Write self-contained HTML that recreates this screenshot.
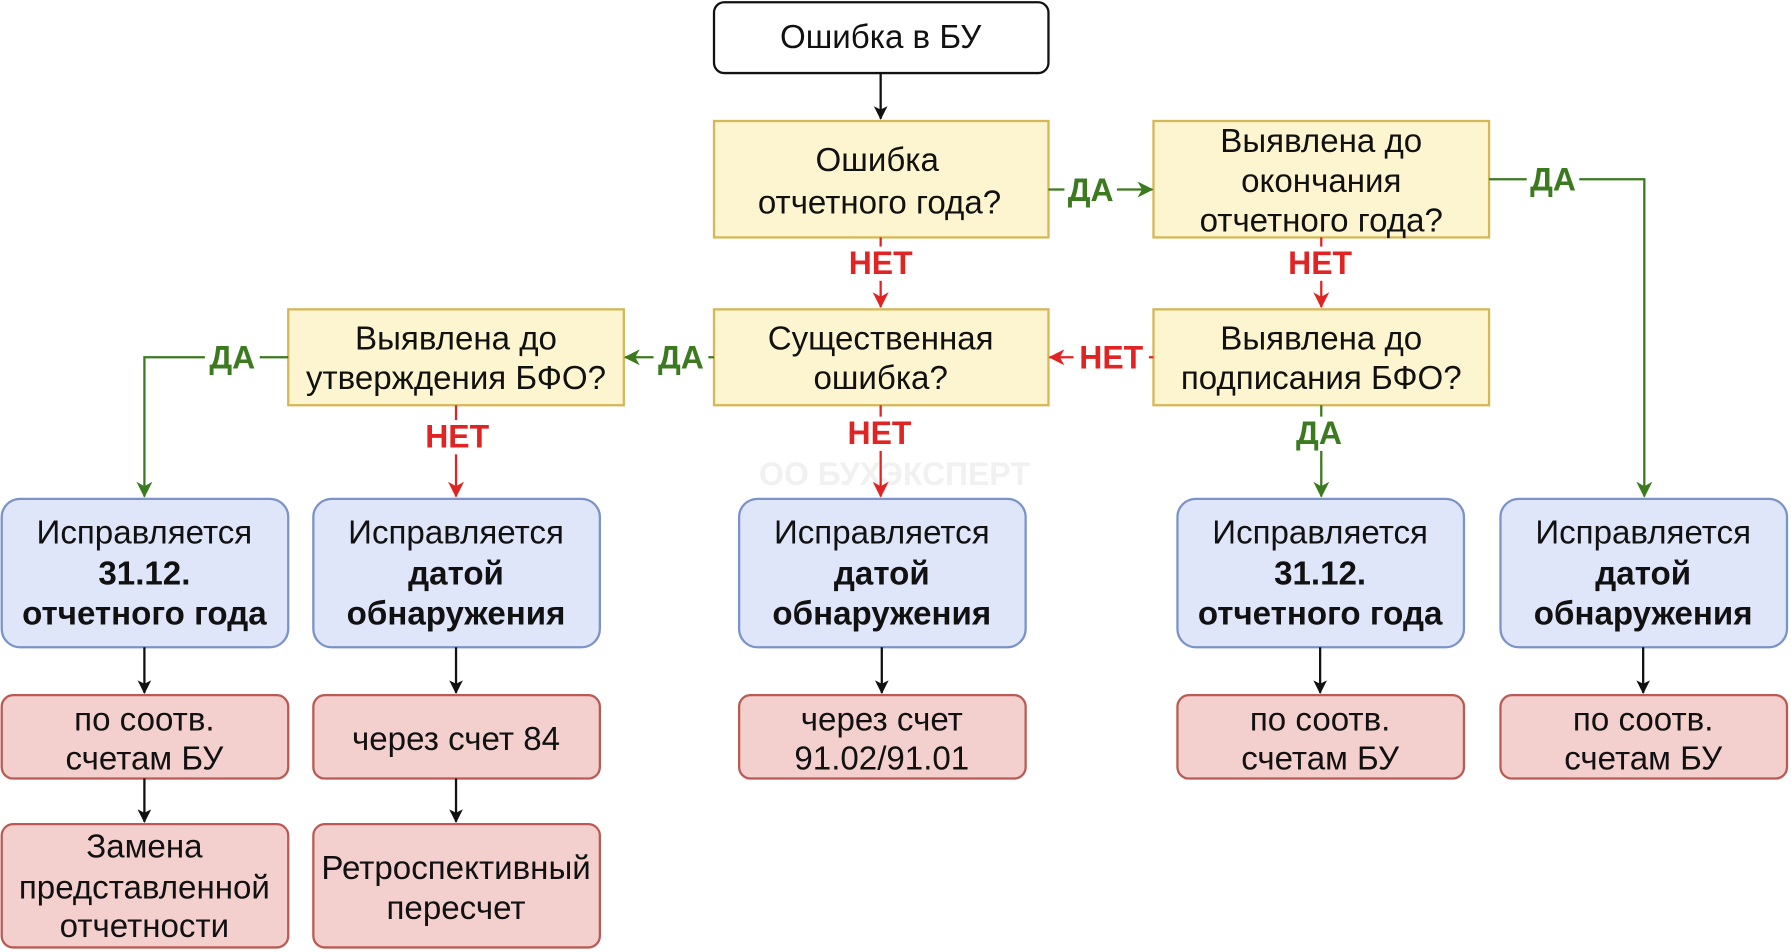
<!DOCTYPE html>
<html><head><meta charset="utf-8"><style>
html,body{margin:0;padding:0;background:#fff;}
svg{display:block;}
text{font-family:"Liberation Sans","DejaVu Sans",sans-serif;}
.t{font-size:29px;fill:#111;text-anchor:middle;}
.b{font-weight:bold;}
.g{font-size:28px;font-weight:bold;fill:#3b7a1f;text-anchor:middle;}
.r{font-size:28px;font-weight:bold;fill:#e02424;text-anchor:middle;}
.y{fill:#fdf5d0;stroke:#d6b656;stroke-width:2;}
.bl{fill:#dfe6fa;stroke:#7b93c9;stroke-width:2;}
.p{fill:#f3d0ce;stroke:#bb5a55;stroke-width:2;}
.lk{stroke:#111;stroke-width:2;fill:none;}
.lg{stroke:#3b7a1f;stroke-width:2;fill:none;}
.lr{stroke:#e02424;stroke-width:2;fill:none;}
</style></head><body>
<svg width="1791" height="952" viewBox="0 0 1568 834" xmlns="http://www.w3.org/2000/svg">
<defs>
<marker id="ak" markerWidth="12" markerHeight="12" refX="11" refY="6" orient="auto" markerUnits="userSpaceOnUse"><path d="M0,0 L12,6 L0,12 L3,6 z" fill="#111"/></marker>
<marker id="ag" markerWidth="14" markerHeight="14" refX="13" refY="7" orient="auto" markerUnits="userSpaceOnUse"><path d="M0,0 L14,7 L0,14 L4,7 z" fill="#3b7a1f"/></marker>
<marker id="ar" markerWidth="14" markerHeight="14" refX="13" refY="7" orient="auto" markerUnits="userSpaceOnUse"><path d="M0,0 L14,7 L0,14 L4,7 z" fill="#e02424"/></marker>
</defs>
<text x="783" y="425" font-size="28" font-weight="bold" fill="#f1f1f1" text-anchor="middle" style="font-family:'Liberation Sans',sans-serif">ОО БУХЭКСПЕРТ</text>

<rect x="625" y="2" width="293" height="62" rx="9" fill="#fff" stroke="#111" stroke-width="2"/>
<text class="t" x="771" y="42">Ошибка в БУ</text>
<line class="lk" x1="771" y1="64" x2="771" y2="104" marker-end="url(#ak)"/>

<rect class="y" x="625" y="106" width="293" height="102"/>
<text class="t" x="768" y="150">Ошибка</text><text class="t" x="770" y="187">отчетного года?</text>
<rect class="y" x="1010" y="106" width="294" height="102"/>
<text class="t" x="1157" y="133">Выявлена до</text><text class="t" x="1157" y="168">окончания</text><text class="t" x="1157" y="203">отчетного года?</text>

<line class="lg" x1="918" y1="166" x2="1009" y2="166" marker-end="url(#ag)"/>
<rect x="932" y="152" width="46" height="28" fill="#fff"/><text class="g" x="955" y="176">ДА</text>
<polyline class="lg" points="1304,157 1440,157 1440,435" marker-end="url(#ag)"/>
<rect x="1337" y="143" width="46" height="28" fill="#fff"/><text class="g" x="1360" y="167">ДА</text>

<line class="lr" x1="771" y1="208" x2="771" y2="269" marker-end="url(#ar)"/>
<rect x="738" y="216" width="66" height="30" fill="#fff"/><text class="r" x="771" y="240">НЕТ</text>
<line class="lr" x1="1157" y1="208" x2="1157" y2="269" marker-end="url(#ar)"/>
<rect x="1124" y="216" width="66" height="30" fill="#fff"/><text class="r" x="1156" y="240">НЕТ</text>

<rect class="y" x="252" y="271" width="294" height="84"/>
<text class="t" x="399" y="306">Выявлена до</text><text class="t" x="399" y="341">утверждения БФО?</text>
<rect class="y" x="625" y="271" width="293" height="84"/>
<text class="t" x="771" y="306">Существенная</text><text class="t" x="771" y="341">ошибка?</text>
<rect class="y" x="1010" y="271" width="294" height="84"/>
<text class="t" x="1157" y="306">Выявлена до</text><text class="t" x="1157" y="341">подписания БФО?</text>

<line class="lr" x1="1010" y1="313" x2="919" y2="313" marker-end="url(#ar)"/>
<rect x="940" y="299" width="66" height="28" fill="#fff"/><text class="r" x="973" y="323">НЕТ</text>
<line class="lg" x1="625" y1="313" x2="547" y2="313" marker-end="url(#ag)"/>
<rect x="572" y="299" width="48" height="28" fill="#fff"/><text class="g" x="596" y="323">ДА</text>
<polyline class="lg" points="252,313 126,313 126,435" marker-end="url(#ag)"/>
<rect x="179" y="299" width="48" height="28" fill="#fff"/><text class="g" x="203" y="323">ДА</text>

<line class="lr" x1="399" y1="355" x2="399" y2="435" marker-end="url(#ar)"/>
<rect x="366" y="368" width="66" height="30" fill="#fff"/><text class="r" x="400" y="392">НЕТ</text>
<line class="lr" x1="771" y1="355" x2="771" y2="435" marker-end="url(#ar)"/>
<rect x="738" y="365" width="66" height="30" fill="#fff"/><text class="r" x="770" y="389">НЕТ</text>
<line class="lg" x1="1157" y1="355" x2="1157" y2="435" marker-end="url(#ag)"/>
<rect x="1132" y="365" width="48" height="30" fill="#fff"/><text class="g" x="1155" y="389">ДА</text>

<g>
<rect class="bl" x="1" y="437" width="251" height="130" rx="16"/>
<text class="t" x="126" y="476">Исправляется</text><text class="t b" x="126" y="512">31.12.</text><text class="t b" x="126" y="547">отчетного года</text>
<rect class="bl" x="274" y="437" width="251" height="130" rx="16"/>
<text class="t" x="399" y="476">Исправляется</text><text class="t b" x="399" y="512">датой</text><text class="t b" x="399" y="547">обнаружения</text>
<rect class="bl" x="647" y="437" width="251" height="130" rx="16"/>
<text class="t" x="772" y="476">Исправляется</text><text class="t b" x="772" y="512">датой</text><text class="t b" x="772" y="547">обнаружения</text>
<rect class="bl" x="1031" y="437" width="251" height="130" rx="16"/>
<text class="t" x="1156" y="476">Исправляется</text><text class="t b" x="1156" y="512">31.12.</text><text class="t b" x="1156" y="547">отчетного года</text>
<rect class="bl" x="1314" y="437" width="251" height="130" rx="16"/>
<text class="t" x="1439" y="476">Исправляется</text><text class="t b" x="1439" y="512">датой</text><text class="t b" x="1439" y="547">обнаружения</text>
</g>

<line class="lk" x1="126" y1="567" x2="126" y2="607" marker-end="url(#ak)"/>
<line class="lk" x1="399" y1="567" x2="399" y2="607" marker-end="url(#ak)"/>
<line class="lk" x1="772" y1="567" x2="772" y2="607" marker-end="url(#ak)"/>
<line class="lk" x1="1156" y1="567" x2="1156" y2="607" marker-end="url(#ak)"/>
<line class="lk" x1="1439" y1="567" x2="1439" y2="607" marker-end="url(#ak)"/>

<rect class="p" x="1" y="609" width="251" height="73" rx="10"/>
<text class="t" x="126" y="640">по соотв.</text><text class="t" x="126" y="674">счетам БУ</text>
<rect class="p" x="274" y="609" width="251" height="73" rx="10"/>
<text class="t" x="399" y="657">через счет 84</text>
<rect class="p" x="647" y="609" width="251" height="73" rx="10"/>
<text class="t" x="772" y="640">через счет</text><text class="t" x="772" y="674">91.02/91.01</text>
<rect class="p" x="1031" y="609" width="251" height="73" rx="10"/>
<text class="t" x="1156" y="640">по соотв.</text><text class="t" x="1156" y="674">счетам БУ</text>
<rect class="p" x="1314" y="609" width="251" height="73" rx="10"/>
<text class="t" x="1439" y="640">по соотв.</text><text class="t" x="1439" y="674">счетам БУ</text>

<line class="lk" x1="126" y1="682" x2="126" y2="720" marker-end="url(#ak)"/>
<line class="lk" x1="399" y1="682" x2="399" y2="720" marker-end="url(#ak)"/>

<rect class="p" x="1" y="722" width="251" height="108" rx="10"/>
<text class="t" x="126" y="751">Замена</text><text class="t" x="126" y="787">представленной</text><text class="t" x="126" y="821">отчетности</text>
<rect class="p" x="274" y="722" width="251" height="108" rx="10"/>
<text class="t" x="399" y="770">Ретроспективный</text><text class="t" x="399" y="805">пересчет</text>
</svg>
</body></html>
